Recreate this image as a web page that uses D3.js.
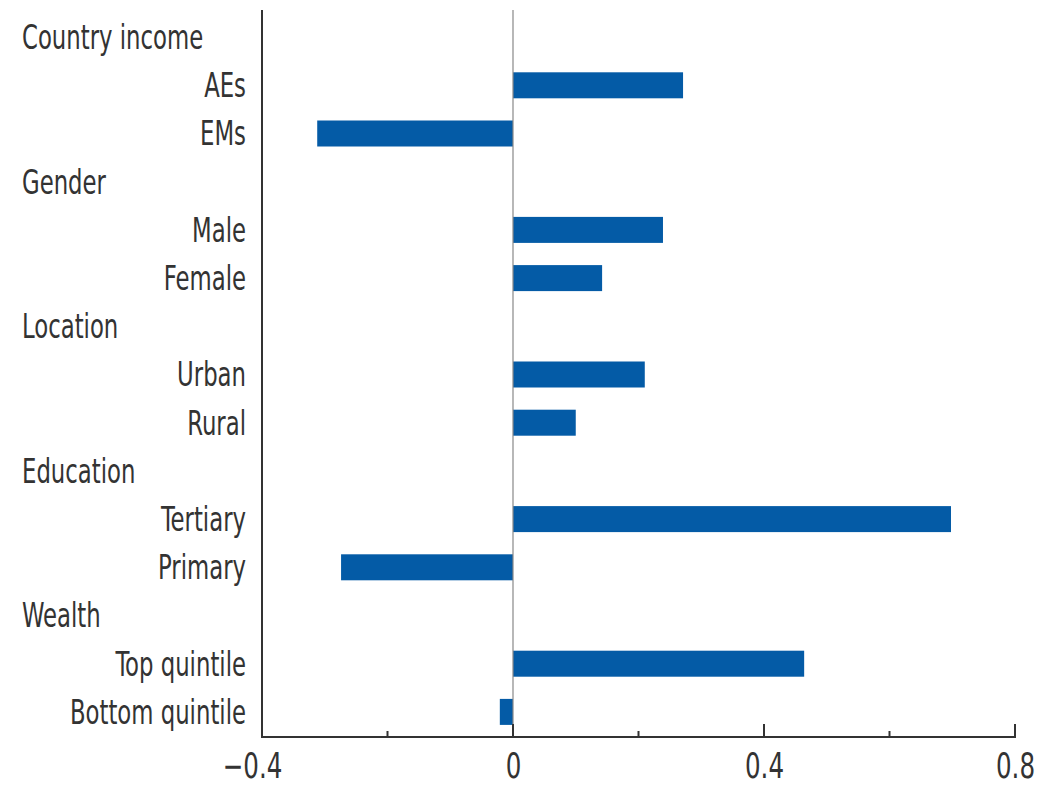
<!DOCTYPE html>
<html>
<head>
<meta charset="utf-8">
<script src="https://cdn.jsdelivr.net/npm/d3@7"></script>
<style>
  body { margin: 0; background: #fff; }
  text { font-family: "DejaVu Sans Condensed", "DejaVu Sans", sans-serif; fill: #333; }
</style>
</head>
<body>
<svg id="chart" width="1038" height="788"></svg>
<script>
// rows from top to bottom; group headers have no value
const rowLabels = ["Country income", "AEs", "EMs", "Gender", "Male", "Female", "Location", "Urban", "Rural",
                   "Education", "Tertiary", "Primary", "Wealth", "Top quintile", "Bottom quintile"];
const isHeader = [true, false, false, true, false, false, true, false, false, true, false, false, true, false, false];
const rowValues = [null, 0.271, -0.312, null, 0.239, 0.142, null, 0.21, 0.10, null, 0.698, -0.274, null, 0.464, -0.021];
const tickValues = [-0.4, -0.2, 0, 0.2, 0.4, 0.6, 0.8];
const tickLabels = ["\u22120.4", "", "0", "", "0.4", "", "0.8"];

const squeeze = 0.745; // narrow type
const svg = d3.select("#chart");
const x = d3.scaleLinear().domain([-0.4, 0.8]).range([262, 1015]);
const y = d3.scaleBand().domain(d3.range(rowLabels.length)).range([13, 736]);
const barH = 26;

// bars
svg.append("g").selectAll("rect")
  .data(rowValues.map((v, i) => ({v, i})).filter(d => d.v !== null))
  .join("rect")
  .attr("x", d => x(Math.min(0, d.v)))
  .attr("width", d => Math.abs(x(d.v) - x(0)))
  .attr("y", d => y(d.i) + y.bandwidth() / 2 - barH / 2)
  .attr("height", barH)
  .attr("fill", "#045ba6");

// zero line
svg.append("line")
  .attr("x1", x(0)).attr("x2", x(0))
  .attr("y1", 10).attr("y2", 737)
  .attr("stroke", "#888").attr("stroke-width", 1.2);

// row labels
svg.append("g").selectAll("text")
  .data(rowLabels)
  .join("text")
  .attr("transform", (d, i) => `translate(${isHeader[i] ? 22 : 246},${y(i) + y.bandwidth() / 2}) scale(${squeeze},1)`)
  .attr("dy", "0.35em")
  .attr("text-anchor", (d, i) => isHeader[i] ? "start" : "end")
  .attr("font-size", 34)
  .text(d => d);

// x axis labels
const xAxis = d3.axisBottom(x)
  .tickValues(tickValues)
  .tickSize(0)
  .tickFormat((d, i) => tickLabels[i]);
const ax = svg.append("g").attr("transform", "translate(0,737)").call(xAxis);
ax.select(".domain").remove();
ax.selectAll(".tick text")
  .attr("font-size", 35).attr("font-family", null).attr("fill", "#333")
  .attr("y", null).attr("dy", null)
  .attr("transform", d => `translate(${d < 0 ? -10 : 0},41) scale(0.78,1)`);

// ticks pointing up
svg.append("g").selectAll("line")
  .data(tickValues)
  .join("line")
  .attr("x1", d => x(d)).attr("x2", d => x(d))
  .attr("y1", 737)
  .attr("y2", (d, i) => tickLabels[i] ? 724 : 731)
  .attr("stroke", "#333").attr("stroke-width", 2);

// axis lines
svg.append("line")
  .attr("x1", 262).attr("x2", 1016).attr("y1", 737).attr("y2", 737)
  .attr("stroke", "#333").attr("stroke-width", 2);
svg.append("line")
  .attr("x1", 262).attr("x2", 262).attr("y1", 10).attr("y2", 738)
  .attr("stroke", "#333").attr("stroke-width", 2);
</script>
</body>
</html>
